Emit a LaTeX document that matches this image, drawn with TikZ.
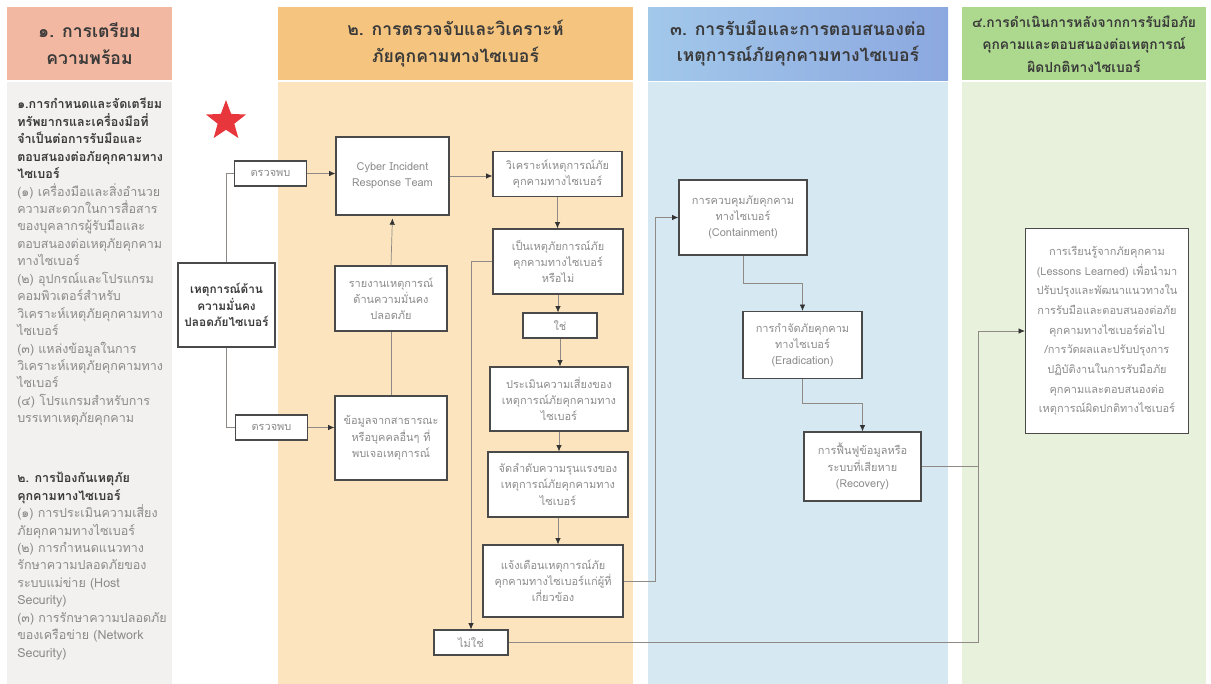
\documentclass[tikz,border=0pt]{standalone}
\usepackage{fontspec}
\setmainfont[Script=Thai]{Loma}
\usetikzlibrary{arrows.meta,shapes.geometric}
\definecolor{headone}{HTML}{F3B8A1}
\definecolor{bodyone}{HTML}{F2F1F0}
\definecolor{headtwo}{HTML}{F5C47E}
\definecolor{bodytwo}{HTML}{FBE4BE}
\definecolor{headthreeL}{HTML}{A2C8EA}
\definecolor{headthreeR}{HTML}{8CA8E0}
\definecolor{bodythree}{HTML}{D6E9F3}
\definecolor{headfour}{HTML}{ADD98E}
\definecolor{bodyfour}{HTML}{E7F1DB}
\definecolor{boxline}{HTML}{4A4A4A}
\definecolor{boxtext}{HTML}{8C8C8C}
\definecolor{wirecol}{HTML}{8F8A86}
\definecolor{tipcol}{HTML}{333333}
\definecolor{headtxt}{HTML}{3A3A3A}
\definecolor{itemtxt}{HTML}{8A8A8A}
\definecolor{starred}{HTML}{E8373C}
\newcommand{\hdline}[1]{{\bfseries\color{headtxt}#1}}

\begin{document}
\begin{tikzpicture}[x=0.025cm,y=-0.025cm,
  box/.style={draw=boxline,line width=0.8pt,fill=white,align=center,text=boxtext,inner sep=1pt,font=\fontsize{7.8}{11.5}\selectfont},
  boxsize/.style 2 args={minimum width=#1*0.025cm,minimum height=#2*0.025cm},
  wire/.style={draw=wirecol,line width=0.5pt},
  wirearrow/.style={wire,-{Latex[length=4.5pt,width=3.8pt,color=tipcol]}},
  headtext/.style={align=center,text=headtxt,font=\bfseries\fontsize{12.5}{19}\selectfont},
  sidetext/.style={align=left,anchor=north west,inner sep=0pt,text=itemtxt,font=\fontsize{8.9}{12.4}\selectfont}]
\useasboundingbox (0,0) rectangle (1211,684);
\fill[white] (0,0) rectangle (1211,684);
% columns
\fill[headone] (7,7) rectangle (172,80);
\fill[bodyone] (7,82) rectangle (172,684);
\fill[headtwo] (278,7) rectangle (633,80);
\fill[bodytwo] (278,82) rectangle (633,684);
\shade[left color=headthreeL,right color=headthreeR] (648,7) rectangle (948,80);
\fill[bodythree] (648,82) rectangle (948,684);
\fill[headfour] (962,7) rectangle (1206,80);
\fill[bodyfour] (962,82) rectangle (1206,684);
% headings
\node[headtext] (h1) at (89.5,43.5) {๑. การเตรียม\\ความพร้อม};
\node[headtext] (h2) at (455.5,43.5) {๒. การตรวจจับและวิเคราะห์\\ภัยคุกคามทางไซเบอร์};
\node[headtext] (h3) at (798,43.5) {๓. การรับมือและการตอบสนองต่อ\\เหตุการณ์ภัยคุกคามทางไซเบอร์};
\node[headtext,font=\bfseries\fontsize{9.8}{16}\selectfont] (h4) at (1084,44) {๔.การดำเนินการหลังจากการรับมือภัย\\คุกคามและตอบสนองต่อเหตุการณ์\\ผิดปกติทางไซเบอร์};
% column 1 text
\node[sidetext] (prepone) at (17,98) {\hdline{๑.การกำหนดและจัดเตรียม}\\\hdline{ทรัพยากรและเครื่องมือที่}\\\hdline{จำเป็นต่อการรับมือและ}\\\hdline{ตอบสนองต่อภัยคุกคามทาง}\\\hdline{ไซเบอร์}\\
(๑) เครื่องมือและสิ่งอำนวย\\ความสะดวกในการสื่อสาร\\ของบุคลากรผู้รับมือและ\\ตอบสนองต่อเหตุภัยคุกคาม\\ทางไซเบอร์\\
(๒) อุปกรณ์และโปรแกรม\\คอมพิวเตอร์สำหรับ\\วิเคราะห์เหตุภัยคุกคามทาง\\ไซเบอร์\\
(๓) แหล่งข้อมูลในการ\\วิเคราะห์เหตุภัยคุกคามทาง\\ไซเบอร์\\
(๔) โปรแกรมสำหรับการ\\บรรเทาเหตุภัยคุกคาม};
\node[sidetext] (preptwo) at (17,472) {\hdline{๒. การป้องกันเหตุภัย}\\\hdline{คุกคามทางไซเบอร์}\\
(๑) การประเมินความเสี่ยง\\ภัยคุกคามทางไซเบอร์\\
(๒) การกำหนดแนวทาง\\รักษาความปลอดภัยของ\\ระบบแม่ข่าย (Host\\Security)\\
(๓) การรักษาความปลอดภัย\\ของเครือข่าย (Network\\Security)};
\node[star,star points=5,star point ratio=2.4,fill=starred,minimum size=42*0.025cm,inner sep=0pt] (redstar) at (226,121) {};
% boxes
\node[box,boxsize={97}{84},text=headtxt,font=\bfseries\fontsize{8.4}{11.7}\selectfont] (event) at (226.5,305) {เหตุการณ์ด้าน\\ความมั่นคง\\ปลอดภัยไซเบอร์};
\node[box,boxsize={72}{25}] (found1) at (270.5,173.5) {ตรวจพบ};
\node[box,boxsize={72}{25}] (found2) at (271.5,427.5) {ตรวจพบ};
\node[box,boxsize={113}{78}] (cirt) at (392.5,176) {Cyber Incident\\Response Team};
\node[box,boxsize={112}{65}] (report) at (391,298.5) {รายงานเหตุการณ์\\ด้านความมั่นคง\\ปลอดภัย};
\node[box,boxsize={112}{84}] (public) at (391,438) {ข้อมูลจากสาธารณะ\\หรือบุคคลอื่นๆ ที่\\พบเจอเหตุการณ์};
\node[box,boxsize={129}{45}] (analyse) at (557.5,174) {วิเคราะห์เหตุการณ์ภัย\\คุกคามทางไซเบอร์};
\node[box,boxsize={130}{65}] (isincident) at (558,261.5) {เป็นเหตุภัยการณ์ภัย\\คุกคามทางไซเบอร์\\หรือไม่};
\node[box,boxsize={74}{25}] (yes) at (560,325.5) {ใช่};
\node[box,boxsize={138}{64}] (assess) at (559,399) {ประเมินความเสี่ยงของ\\เหตุการณ์ภัยคุกคามทาง\\ไซเบอร์};
\node[box,boxsize={140}{65}] (rank) at (558,484.5) {จัดลำดับความรุนแรงของ\\เหตุการณ์ภัยคุกคามทาง\\ไซเบอร์};
\node[box,boxsize={140}{72}] (notify) at (553,581) {แจ้งเตือนเหตุการณ์ภัย\\คุกคามทางไซเบอร์แก่ผู้ที่\\เกี่ยวข้อง};
\node[box,boxsize={74}{25}] (no) at (471,642.5) {ไม่ใช่};
\node[box,boxsize={128}{75}] (contain) at (743,217.5) {การควบคุมภัยคุกคาม\\ทางไซเบอร์\\(Containment)};
\node[box,boxsize={119}{67}] (eradicate) at (802.5,345) {การกำจัดภัยคุกคาม\\ทางไซเบอร์\\(Eradication)};
\node[box,boxsize={117}{69}] (recovery) at (862.5,466.5) {การฟื้นฟูข้อมูลหรือ\\ระบบที่เสียหาย\\(Recovery)};
\node[box,boxsize={163}{205},font=\fontsize{7.8}{14}\selectfont] (lessons) at (1107,331) {การเรียนรู้จากภัยคุกคาม\\(Lessons Learned) เพื่อนำมา\\ปรับปรุงและพัฒนาแนวทางใน\\การรับมือและตอบสนองต่อภัย\\คุกคามทางไซเบอร์ต่อไป\\/การวัดผลและปรับปรุงการ\\ปฏิบัติงานในการรับมือภัย\\คุกคามและตอบสนองต่อ\\เหตุการณ์ผิดปกติทางไซเบอร์};
\coordinate (join) at (978,642.5);
% connectors
\draw[wire] (event.north) |- (found1.west);
\draw[wirearrow] (found1.east) -- (found1.east -| cirt.west);
\draw[wire] (event.south) |- (found2.west);
\draw[wirearrow] (found2.east) -- (found2.east -| public.west);
\draw[wire] (public.north) -- (report.south);
\draw[wirearrow,shorten >=2pt] (report.north) -- (cirt.south);
\draw[wirearrow] (cirt.east) -- (cirt.east -| analyse.west);
\draw[wirearrow] (analyse.south) -- (analyse.south |- isincident.north);
\draw[wirearrow] (isincident.south) -- (isincident.south |- yes.north);
\draw[wirearrow] (yes.south) -- (yes.south |- assess.north);
\draw[wirearrow] (assess.south) -- (assess.south |- rank.north);
\draw[wirearrow] (rank.south) -- (rank.south |- notify.north);
\draw[wirearrow] (isincident.west) -| (no.north);
\draw[wirearrow] (notify.east) -- ++(32,0) |- (contain.west);
\draw[wirearrow] (contain.south) -- ++(0,28) -| (eradicate.north);
\draw[wirearrow] (eradicate.south) -- ++(0,24) -| (recovery.north);
\draw[wire] (recovery.east) -- (recovery.east -| join);
\draw[wirearrow] (no.east) -- (join) |- (lessons.west);
\end{tikzpicture}
\end{document}
